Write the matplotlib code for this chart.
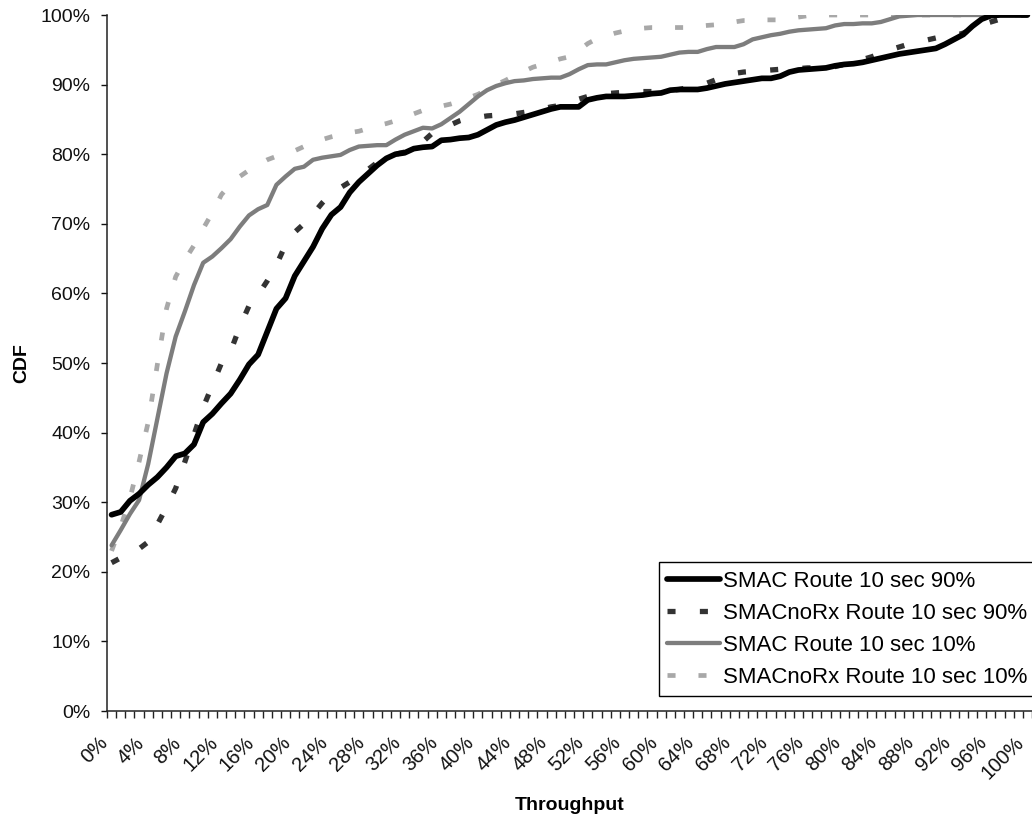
import matplotlib
matplotlib.use("Agg")
import matplotlib.pyplot as plt
from matplotlib.ticker import FixedLocator, FuncFormatter

plt.rcParams['font.family'] = ['Liberation Sans', 'DejaVu Sans']
plt.rcParams['lines.scale_dashes'] = False

# Throughput categories (percent), one per 1 %
throughput = list(range(0, 101))
tick_label_step = 4

smac_90 = [28.2, 28.6, 30.2, 31.2, 32.5, 33.6, 35.0, 36.6, 37.0, 38.3,
           41.5, 42.7, 44.2, 45.6, 47.6, 49.8, 51.2, 54.5, 57.8, 59.3,
           62.5, 64.6, 66.7, 69.3, 71.3, 72.4, 74.5, 76.0, 77.2, 78.4,
           79.4, 80.0, 80.2, 80.8, 81.0, 81.1, 82.0, 82.1, 82.3, 82.4,
           82.8, 83.5, 84.2, 84.6, 84.9, 85.3, 85.7, 86.1, 86.5, 86.8,
           86.8, 86.8, 87.8, 88.1, 88.3, 88.3, 88.3, 88.4, 88.5, 88.7,
           88.8, 89.2, 89.3, 89.3, 89.3, 89.5, 89.8, 90.1, 90.3, 90.5,
           90.7, 90.9, 90.9, 91.2, 91.8, 92.1, 92.2, 92.3, 92.4, 92.7,
           92.9, 93.0, 93.2, 93.5, 93.8, 94.1, 94.4, 94.6, 94.8, 95.0,
           95.2, 95.8, 96.5, 97.2, 98.4, 99.4, 99.9, 100, 100, 100, 100]

smacnorx_90 = [21.3, 22.0, 22.7, 23.3, 24.3, 26.8, 29.3, 32.0, 35.8, 39.7,
               43.6, 46.8, 50.0, 51.7, 55.2, 58.2, 59.8, 61.8, 64.1, 67.0,
               68.8, 70.0, 71.4, 73.0, 74.4, 75.2, 76.0, 76.8, 77.8, 78.8,
               79.7, 80.0, 80.3, 80.7, 81.8, 83.0, 83.7, 84.2, 84.8, 85.2,
               85.3, 85.5, 85.6, 85.7, 85.8, 86.0, 86.2, 86.5, 86.8, 87.0,
               87.4, 87.9, 88.3, 88.5, 88.7, 88.8, 88.9, 88.9, 89.0, 89.0,
               89.1, 89.2, 89.3, 89.6, 89.9, 90.2, 90.7, 91.2, 91.6, 91.8,
               91.9, 92.0, 92.1, 92.2, 92.3, 92.3, 92.4, 92.4, 92.5, 92.6,
               92.9, 93.2, 93.6, 94.0, 94.5, 95.0, 95.4, 95.8, 96.1, 96.4,
               96.7, 96.9, 97.0, 97.4, 98.0, 98.6, 99.0, 99.4, 99.7, 100, 100]

smac_10 = [23.8, 26.0, 28.3, 30.3, 35.5, 42.0, 48.5, 53.8, 57.4, 61.2,
           64.4, 65.3, 66.5, 67.8, 69.6, 71.2, 72.1, 72.7, 75.6, 76.8,
           77.9, 78.2, 79.2, 79.5, 79.7, 79.9, 80.6, 81.1, 81.2, 81.3,
           81.3, 82.1, 82.8, 83.3, 83.8, 83.7, 84.3, 85.2, 86.1, 87.2,
           88.3, 89.2, 89.8, 90.2, 90.5, 90.6, 90.8, 90.9, 91.0, 91.0,
           91.5, 92.2, 92.8, 92.9, 92.9, 93.2, 93.5, 93.7, 93.8, 93.9,
           94.0, 94.3, 94.6, 94.7, 94.7, 95.1, 95.4, 95.4, 95.4, 95.8,
           96.5, 96.8, 97.1, 97.3, 97.6, 97.8, 97.9, 98.0, 98.1, 98.5,
           98.7, 98.7, 98.8, 98.8, 99.0, 99.4, 99.8, 99.9, 100, 100,
           100, 100, 100, 100, 100, 100, 100, 100, 100, 100, 100]

smacnorx_10 = [23.0, 26.5, 30.5, 35.8, 41.5, 49.8, 57.8, 62.4, 64.8, 66.9,
               69.3, 71.6, 74.2, 75.7, 76.8, 77.7, 78.5, 79.2, 79.7, 80.1,
               80.5, 81.1, 81.6, 82.1, 82.5, 82.8, 83.1, 83.3, 83.7, 84.1,
               84.4, 84.8, 85.3, 85.8, 86.3, 86.6, 86.9, 87.2, 87.6, 88.1,
               88.6, 89.3, 90.0, 90.6, 91.3, 91.9, 92.5, 92.9, 93.3, 93.7,
               94.0, 94.9, 95.9, 96.6, 97.0, 97.4, 97.7, 97.9, 98.1, 98.2,
               98.2, 98.2, 98.2, 98.2, 98.4, 98.5, 98.6, 98.8, 99.0, 99.2,
               99.2, 99.3, 99.3, 99.3, 99.5, 99.7, 99.9, 100, 100, 100,
               100, 100, 100, 100, 100, 100, 100, 100, 100, 100,
               100, 100, 100, 100, 100, 100, 100, 100, 100, 100, 100]

series_labels = ["SMAC Route 10 sec 90%", "SMACnoRx Route 10 sec 90%",
                 "SMAC Route 10 sec 10%", "SMACnoRx Route 10 sec 10%"]

fig = plt.figure(figsize=(10.32, 8.18), dpi=100)
ax = fig.add_axes([107 / 1032, (818 - 711) / 818, (1032 - 107) / 1032, (711 - 15) / 818])

ax.plot(throughput, smac_90, color='#000000', lw=4.1, solid_capstyle='round',
        solid_joinstyle='round', label=series_labels[0], zorder=4)
ax.plot(throughput, smacnorx_90, color='#333333', lw=3.8, linestyle=(0, (5.8, 17.5)),
        dash_capstyle='butt', label=series_labels[1], zorder=3)
ax.plot(throughput, smac_10, color='#7d7d7d', lw=3.1, solid_capstyle='round',
        solid_joinstyle='round', label=series_labels[2], zorder=2)
ax.plot(throughput, smacnorx_10, color='#a8a8a8', lw=3.4, linestyle=(0, (5.8, 16.5)),
        dash_capstyle='butt', label=series_labels[3], zorder=1)

ax.set_xlim(-0.5, 100.5)
ax.set_ylim(0, 100)

for s in ['top', 'right']:
    ax.spines[s].set_visible(False)
for s in ['left', 'bottom']:
    ax.spines[s].set_linewidth(1.1)
    ax.spines[s].set_color('#222222')

# y axis
ax.set_yticks(range(0, 101, 10))
ax.yaxis.set_major_formatter(FuncFormatter(lambda v, p: f"{int(v)}%"))
ax.tick_params(axis='y', direction='out', length=4, width=1, pad=8, labelsize=14,
               colors='#111111')

# x axis: labels every 4 categories, tick marks between every category
label_pos = throughput[::tick_label_step]
ax.xaxis.set_major_locator(FixedLocator(label_pos))
ax.set_xticklabels([f"{p}%" for p in label_pos], rotation=45, ha='right')
ax.xaxis.set_minor_locator(FixedLocator([p - 0.5 for p in throughput] + [100.5]))
ax.tick_params(axis='x', which='major', length=0, pad=16, labelsize=14.5, colors='#111111')
ax.tick_params(axis='x', which='minor', direction='out', length=5, width=1, color='#222222')

ax.set_xlabel("Throughput", fontsize=14, fontweight='bold', labelpad=10)
ax.set_ylabel("CDF", fontsize=14, fontweight='bold', labelpad=7)

leg = ax.legend(loc='lower left', bbox_to_anchor=(659 / 1032, (818 - 696) / 818),
                bbox_transform=fig.transFigure, fontsize=16, frameon=True,
                fancybox=False, edgecolor='#000000', framealpha=1,
                handlelength=2.35, handletextpad=0.15, labelspacing=0.49,
                borderpad=0.38, borderaxespad=0)
leg.get_frame().set_linewidth(1.0)

fig.savefig("out.png", dpi=100)
